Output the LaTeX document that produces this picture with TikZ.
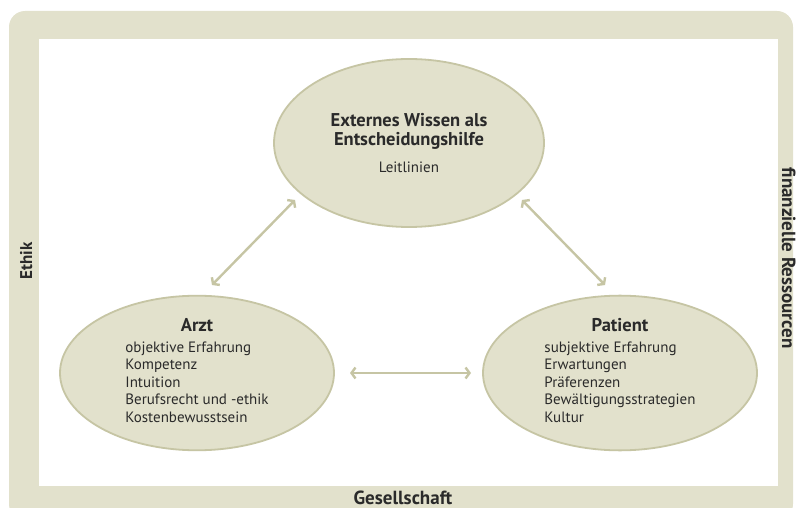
\documentclass[tikz,border=0pt]{standalone}
\usepackage{fontspec}
\setmainfont{PT Sans}
\usepackage{tikz}
\usetikzlibrary{positioning,shapes.geometric,arrows.meta}
\definecolor{sand}{HTML}{E2E1CC}
\definecolor{sanddark}{HTML}{C6C5A4}
\definecolor{ink}{HTML}{2A2A2A}
\newcommand{\headline}[1]{{\bfseries\fontsize{18.5}{20}\selectfont #1}}

\begin{document}
\begin{tikzpicture}[%
    x=1pt,
    y=-1pt,
    link/.style={%
      {Straight Barb[length=4pt,width=11pt]}-{Straight Barb[length=4pt,width=11pt]},
      line width=2.4pt,
      draw=sanddark
    },
    bubble/.style={%
      ellipse,
      fill=sand,
      draw=sanddark,
      line width=1.8pt,
      inner sep=0pt,
      minimum width=274pt,
      minimum height=154pt,
      align=center,
      text=ink,
      font=\fontsize{15}{17.5}\selectfont
    },
    sidelabel/.style={%
      anchor=base,
      text=ink,
      font=\bfseries\fontsize{19}{22}\selectfont
    }
  ]
    \useasboundingbox (0,0) rectangle (796,508);
    \clip (0,0) rectangle (796,508);

    % frame and white field
    \fill[sand, rounded corners=16pt] (9,11) rectangle (793,520);
    \fill[white] (39,39) rectangle (778,486);

    \node[bubble, minimum width=270pt, minimum height=168pt] (wissen) at (409,143)
      {\headline{Externes Wissen als}\\[2pt]\headline{Entscheidungshilfe}\\[9pt]
       Leitlinien};
    \node[bubble] (arzt) at (197,373)
      {\headline{Arzt}\\[3.5pt]
       \begin{tabular}[t]{@{}l@{}}
         objektive Erfahrung\\ Kompetenz\\ Intuition\\ Berufsrecht und -ethik\\ Kostenbewusstsein
       \end{tabular}};
    \node[bubble] (patient) at (620,373)
      {\headline{Patient}\\[3.5pt]
       \begin{tabular}[t]{@{}l@{}}
         subjektive Erfahrung\\ Erwartungen\\ Präferenzen\\ Bewältigungsstrategien\\ Kultur
       \end{tabular}};

    \draw[link] ([shift={(-114,57)}]wissen.center) -- ([shift={(15,-88)}]arzt.center);
    \draw[link] ([shift={(113,57)}]wissen.center) -- ([shift={(-15,-88)}]patient.center);
    \draw[link] ([shift={(153,0)}]arzt.center) -- ([shift={(-149,0)}]patient.center);

    \node[sidelabel, rotate=90, font=\bfseries\fontsize{17}{20}\selectfont] (ethik) at (32,261) {Ethik};
    \node[sidelabel] (gesellschaft) at (403,504) {Gesellschaft};
    \node[sidelabel, rotate=-90] (ressourcen) at (782,258) {finanzielle Ressourcen};
  \end{tikzpicture}
\end{document}
